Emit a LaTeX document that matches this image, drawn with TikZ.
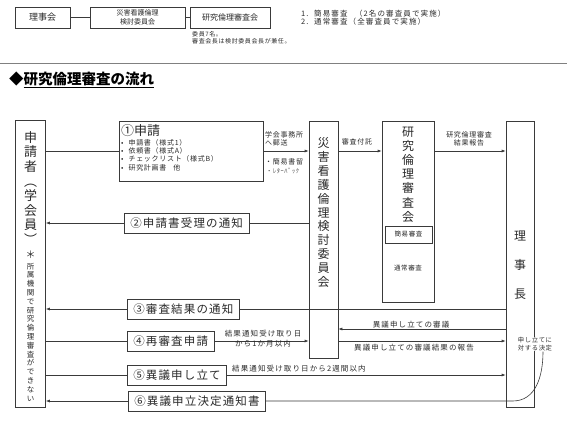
\documentclass[tikz,border=0pt]{standalone}
\usepackage{fontspec}
\setmainfont{Noto Sans CJK JP}
\newfontfamily\jpsp{Noto Sans CJK JP}[LetterSpace=10]
\newfontfamily\jpwd{Noto Sans CJK JP}[LetterSpace=15]
\usetikzlibrary{arrows.meta,calc}
\definecolor{lc}{HTML}{3A3A3A}
\definecolor{tc}{HTML}{2A2A2A}
\tikzset{
  box/.style={draw=lc, line width=0.6pt, fill=white, inner sep=0pt},
  tbox/.style={draw=lc, line width=0.6pt, fill=white, inner sep=1pt, align=center, text=tc},
  nbox/.style={draw=lc, line width=0.6pt, fill=white, inner xsep=6pt, inner ysep=0pt, minimum height=20pt, anchor=west, text=tc, font=\jpsp\fontsize{11.5}{13}\selectfont},
  vtxt/.style={inner sep=0pt, align=center, text=tc},
  lab/.style={inner sep=0pt, text=tc, font=\fontsize{7}{8.5}\selectfont},
  wlab/.style={inner sep=0pt, text=tc, font=\jpwd\fontsize{7.5}{10}\selectfont},
  ln/.style={draw=lc, line width=0.6pt},
  arr/.style={draw=lc, line width=0.6pt, -{Latex[length=4pt,width=3pt]}},
}
\begin{document}
\begin{tikzpicture}[x=1pt,y=-1pt]
\useasboundingbox (0,0) rectangle (567,425);
% ---------- top organisation ----------
\node[tbox, minimum width=55pt, minimum height=21pt, font=\fontsize{9}{10}\selectfont] (t1) at (42.5,17.5) {理事会};
\node[tbox, minimum width=95pt, minimum height=21pt, font=\fontsize{7}{8.5}\selectfont] (t2) at (137.5,17.5) {災害看護倫理\\検討委員会};
\node[tbox, minimum width=80pt, minimum height=21pt, font=\fontsize{8}{9}\selectfont] (t3) at (230,17.5) {研究倫理審査会};
\draw[ln] (t1) -- (t2);
\draw[ln] (t2) -- (t3);
\node[lab, anchor=north west, align=left, font=\jpsp\fontsize{6}{7.5}\selectfont] (note) at (192,31) {委員7名。\\審査会長は検討委員会長が兼任。};
\node[lab, anchor=north west, align=left, font=\jpwd\fontsize{7.5}{8.5}\selectfont] (types) at (301,9.5) {1.\ \ 簡易審査\quad （2名の審査員で実施）\\2.\ \ 通常審査（全審査員で実施）};
\draw[gray, line width=0.9pt] (0,63) -- (567,63);
\node[inner sep=0pt, anchor=west, text=black, font=\fontsize{14.5}{16}\selectfont\bfseries] (title) at (9,80) {◆\underline{研究倫理審査の流れ}};
% ---------- main boxes ----------
\node[box, minimum width=30pt, minimum height=287pt] (app) at (30.5,263.5) {};
\node[vtxt, font=\fontsize{13}{14.6}\selectfont] (appA) at (30.5,188) {申\\請\\者\\︵\\学\\会\\員\\︶};
\node[vtxt, font=\fontsize{7.5}{8.8}\selectfont] (appB) at (30.5,326) {{\fontsize{10}{10}\selectfont ＊}\\[2pt]所\\属\\機\\関\\で\\研\\究\\倫\\理\\審\\査\\が\\で\\き\\な\\い};
\node[box, minimum width=144pt, minimum height=60pt] (b1) at (191,151) {};
\node[inner sep=0pt, anchor=west, text=tc, font=\fontsize{13}{15}\selectfont] (b1t) at (121,131) {①申請};
\node[inner sep=0pt, anchor=north west, align=left, text=tc, font=\jpsp\fontsize{7}{8.3}\selectfont] (b1l) at (121,139) {•\hspace{5pt}申請書（様式1）\\•\hspace{5pt}依頼書（様式A）\\•\hspace{5pt}チェックリスト（様式B）\\•\hspace{5pt}研究計画書\quad 他};
\node[box, minimum width=29pt, minimum height=237pt] (sai) at (323.5,239.5) {};
\node[vtxt, font=\fontsize{12}{13.9}\selectfont] (saiT) at (323.5,212.5) {災\\害\\看\\護\\倫\\理\\検\\討\\委\\員\\会};
\node[box, minimum width=52pt, minimum height=181pt] (ken) at (408,211.5) {};
\node[vtxt, font=\fontsize{12}{14.2}\selectfont] (kenT) at (408,174.5) {研\\究\\倫\\理\\審\\査\\会};
\node[box, minimum width=47pt, minimum height=17pt, text=tc, font=\jpsp\fontsize{6.5}{8}\selectfont] (kan) at (408.5,234.5) {簡易審査};
\node[lab, font=\jpsp\fontsize{6.5}{8}\selectfont] (tsu) at (408,268) {通常審査};
\node[box, minimum width=28pt, minimum height=286pt] (rij) at (520,264) {};
\node[vtxt, font=\fontsize{12}{29}\selectfont] (rijT) at (520,265) {理\\事\\長};
% ---------- row boxes ----------
\node[nbox] (b2) at (124,223) {②申請書受理の通知};
\node[nbox] (b3) at (127,309) {③審査結果の通知};
\node[nbox] (b4) at (127,341) {④再審査申請};
\node[nbox] (b5) at (127,375) {⑤異議申し立て};
\node[nbox] (b6) at (128,401) {⑥異議申立決定通知書};
\coordinate (y329) at (0,329);
% ---------- connectors ----------
\draw[ln] (app.east |- b1.west) -- (b1.west);
\draw[arr] (b1.east) -- (b1.east -| sai.west);
\draw[arr] (sai.east |- b1.east) -- (ken.west |- b1.east);
\draw[arr] (ken.east |- b1.east) -- (rij.west |- b1.east);
\draw[ln] (sai.west |- b2.east) -- (b2.east);
\draw[arr] (b2.west) -- (app.east |- b2.west);
\draw[ln] (rij.west |- b3.east) -- (b3.east);
\draw[arr] (b3.west) -- (app.east |- b3.west);
\draw[arr] (rij.west |- y329) -- (sai.east |- y329);
\draw[arr] (sai.east |- b4.east) -- (rij.west |- b4.east);
\draw[ln] (app.east |- b4.west) -- (b4.west);
\draw[arr] (b4.east) -- (sai.west |- b4.east);
\draw[ln] (app.east |- b5.west) -- (b5.west);
\draw[arr] (b5.east) -- (rij.west |- b5.east);
\draw[arr] (b6.west) -- (app.east |- b6.west);
\node[inner sep=0.5pt, fill=white, align=center, text=tc, font=\jpsp\fontsize{6.3}{7.8}\selectfont] (dec) at (535,344) {申し立てに\\対する決定};
\draw[ln] (b6.east) -- ($(rij.west |- b6.east)+(7,0)$) .. controls ($(rij.west |- b6.east)+(30,0)$) and ($(dec.south)+(8,25)$) .. ($(dec.south)+(8,0)$);
% ---------- labels ----------
\node[lab, anchor=west, align=left, font=\jpsp\fontsize{7}{8.5}\selectfont] (l1) at (265,139) {学会事務所\\へ郵送};
\node[lab, anchor=west, font=\jpsp\fontsize{7}{8.5}\selectfont] (l2) at (265,162) {・簡易書留};
\node[lab, anchor=west, font=\jpsp\fontsize{6.3}{7.5}\selectfont, text=black!70] (l3) at (266,171) {・ﾚﾀｰﾊﾟｯｸ};
\node[lab, font=\jpsp\fontsize{7}{8.5}\selectfont] (l4) at (357,142) {審査付託};
\node[lab, align=center, font=\jpsp\fontsize{7}{8.5}\selectfont] (l5) at (469,139) {研究倫理審査\\結果報告};
\node[wlab] (l6) at (411,325) {異議申し立ての審議};
\node[wlab] (l7) at (414,348) {異議申し立ての審議結果の報告};
\node[wlab, align=center] (l8) at (263,338.5) {結果通知受け取り日\\から1か月以内};
\node[wlab, anchor=west] (l9) at (232,369) {結果通知受け取り日から2週間以内};
\end{tikzpicture}
\end{document}
